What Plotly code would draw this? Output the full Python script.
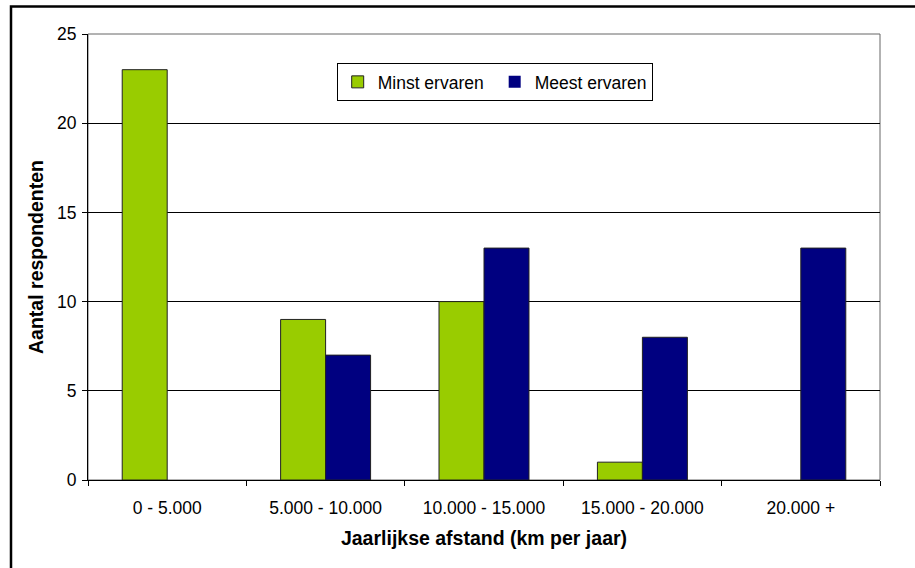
import plotly.graph_objects as go

# Annual distance bands and respondent counts per experience group
categories = ["0 - 5.000", "5.000 - 10.000", "10.000 - 15.000", "15.000 - 20.000", "20.000 +"]
minst_ervaren = [23, 9, 10, 1, 0]
meest_ervaren = [0, 7, 13, 8, 13]
y_ticks = [0, 5, 10, 15, 20, 25]

GREEN = "#99CC00"
NAVY = "#000080"
FONT = "Liberation Sans, Arial, sans-serif"


def outline_widths(values):
    # empty bars get no outline so nothing is drawn on the baseline
    return [1 if v else 0 for v in values]


fig = go.Figure()
fig.add_trace(go.Bar(
    name="Minst ervaren", x=categories, y=minst_ervaren,
    marker=dict(color=GREEN, line=dict(color="#222222", width=outline_widths(minst_ervaren))),
))
fig.add_trace(go.Bar(
    name="Meest ervaren", x=categories, y=meest_ervaren,
    marker=dict(color=NAVY, line=dict(color="#222222", width=outline_widths(meest_ervaren))),
))

fig.update_layout(
    width=915, height=568,
    margin=dict(l=88, r=35, t=34, b=88),
    paper_bgcolor="white", plot_bgcolor="white",
    barmode="group", bargap=0.432, bargroupgap=0,
    font=dict(family=FONT, size=17.5, color="black"),
    showlegend=True,
    legend=dict(
        orientation="h", x=0.314, y=0.935, xanchor="left", yanchor="top",
        bordercolor="black", borderwidth=1, bgcolor="white",
        font=dict(size=17.5), itemwidth=30, traceorder="normal",
        entrywidth=112, entrywidthmode="pixels",
    ),
    shapes=[
        # plot area frame
        dict(type="rect", xref="paper", yref="paper", x0=0, x1=1, y0=0, y1=1,
             line=dict(color="#666666", width=1), layer="below"),
        # outer chart border
        dict(type="rect", xref="paper", yref="paper",
             x0=(11 - 88) / 792, x1=(1000 - 88) / 792,
             y0=(480 - 600) / 446, y1=(480 - 6.5) / 446,
             line=dict(color="black", width=2.5)),
    ],
)

fig.update_xaxes(
    showline=True, linecolor="black", linewidth=1,
    ticks="outside", tickson="boundaries", ticklen=5, tickcolor="black",
    ticklabelstandoff=12,
    showgrid=False,
    tickfont=dict(size=17.5),
    title=dict(text="<b>Jaarlijkse afstand (km per jaar)</b>", font=dict(size=19.5), standoff=14),
)
fig.update_yaxes(
    range=[0, 25], tickvals=y_ticks,
    showline=True, linecolor="black", linewidth=1,
    ticks="outside", ticklen=5, tickcolor="black",
    ticklabelstandoff=2,
    showgrid=True, gridcolor="black", gridwidth=1,
    zeroline=False,
    tickfont=dict(size=17.5),
    title=dict(text="<b>Aantal respondenten</b>", font=dict(size=19.5), standoff=8),
)

fig.write_html("out.html")
